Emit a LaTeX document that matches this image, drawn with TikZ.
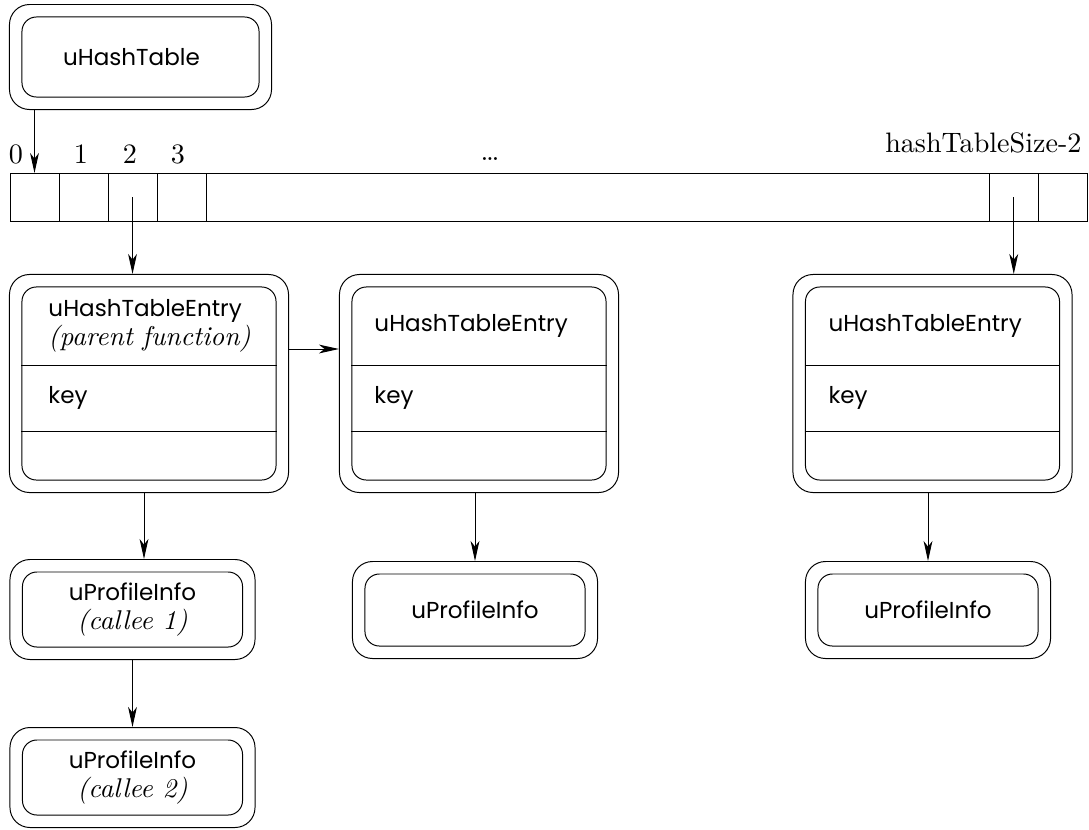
\documentclass[tikz,border=0pt]{standalone}
\usepackage{fontspec}
\newfontfamily\gothic{Poppins}
\newfontfamily\cmten[ItalicFont=lmroman10-italic.otf]{lmroman10-regular.otf}
\usetikzlibrary{arrows.meta, positioning, fit}
\tikzset{
  every picture/.style={line width=0.7pt},
  inbox/.style={draw, rounded corners=0.36cm, inner sep=0pt},
  outerbox/.style={draw, rounded corners=0.5cm, inner sep=0.3cm, fit=#1},
  cell/.style={draw, minimum width=1.225cm, minimum height=1.2cm, inner sep=0pt, outer sep=0pt},
  boxtext/.style={font=\gothic\fontsize{16.4}{21}\selectfont, inner sep=0pt},
  numtext/.style={font=\cmten\fontsize{20}{24}\selectfont, inner sep=0pt},
  arrow/.style={-{Stealth[length=0.5cm, width=0.22cm, inset=0.14cm]}},
}
\newcommand{\rolenote}[1]{{\cmten\itshape\fontsize{19.3}{21}\selectfont(#1)}}
% one hash table entry: name, centre x, title, text x
\newcommand{\entrybox}[4]{
  \node[inbox, minimum width=6.35cm, minimum height=4.825cm] (#1) at (#2,383.5) {};
  \node[outerbox=(#1)] (#1out) {};
  \draw (#1.west |- 0,365) -- (#1.east |- 0,365)
        (#1.west |- 0,431) -- (#1.east |- 0,431);
  \node[boxtext, anchor=west, align=left] (#1name) at (#4,326) {#3};
  \node[boxtext, anchor=west] (#1key) at (#4,398) {key};
}
% one profile info: name, centre x, centre y, height, text
\newcommand{\profbox}[5]{
  \node[inbox, boxtext, align=center, minimum width=5.5cm, minimum height=#4] (#1) at (#2,#3) {#5};
  \node[outerbox=(#1)] (#1out) {};
}

\begin{document}
\begin{tikzpicture}[x=0.025cm, y=-0.025cm]
  \useasboundingbox (0,0) rectangle (1089,829);

  % the table object
  \node[inbox, minimum width=5.925cm, minimum height=2cm] (ht) at (140.5,57) {};
  \node[outerbox=(ht)] (htout) {};
  \node[boxtext] (htname) at (131.5,57) {uHashTable};

  % bucket array
  \node[cell] (c0) at (34.5,197) {};
  \node[cell, right=0pt of c0] (c1) {};
  \node[cell, right=0pt of c1] (c2) {};
  \node[cell, right=0pt of c2] (c3) {};
  \node[cell, minimum width=19.575cm, right=0pt of c3] (gap) {};
  \node[cell, right=0pt of gap] (cA) {};
  \node[cell, right=0pt of cA] (cB) {};

  \node[numtext, anchor=base] (n0) at (16,163) {0};
  \node[numtext, anchor=base] (n1) at (81,163) {1};
  \node[numtext, anchor=base] (n2) at (130,163) {2};
  \node[numtext, anchor=base] (n3) at (178,163) {3};
  \node[numtext, anchor=base] (dots) at (490,160) {\dots};
  \node[numtext, anchor=base east] (nlast) at (1082,152) {hashTableSize-2};

  % entries
  \entrybox{e1}{149}{uHashTableEntry\\\rolenote{parent function}}{48}
  \entrybox{e2}{479}{uHashTableEntry}{374}
  \entrybox{e3}{932.5}{uHashTableEntry}{828}

  % profile infos
  \profbox{p1}{132.5}{609.5}{1.875cm}{uProfileInfo\\\rolenote{callee 1}}
  \profbox{p2}{132.5}{777.5}{1.875cm}{uProfileInfo\\\rolenote{callee 2}}
  \profbox{p3}{475}{610}{1.8cm}{uProfileInfo}
  \profbox{p4}{928}{610}{1.8cm}{uProfileInfo}

  % pointers
  \draw[arrow] (htout.south -| c0.north) -- (c0.north);
  \draw[arrow] (c2.center) -- (c2.center |- e1out.north);
  \draw[arrow] (cA.center) -- (cA.center |- e3out.north);
  \draw[arrow] (e1out.east |- 0,349) -- (e2out.west |- 0,349);
  \draw[arrow] (e1out.south -| 144,0) -- (p1out.north -| 144,0);
  \draw[arrow] (e2out.south -| p3out.north) -- (p3out.north);
  \draw[arrow] (e3out.south -| p4out.north) -- (p4out.north);
  \draw[arrow] (p1out) -- (p2out);
\end{tikzpicture}
\end{document}
